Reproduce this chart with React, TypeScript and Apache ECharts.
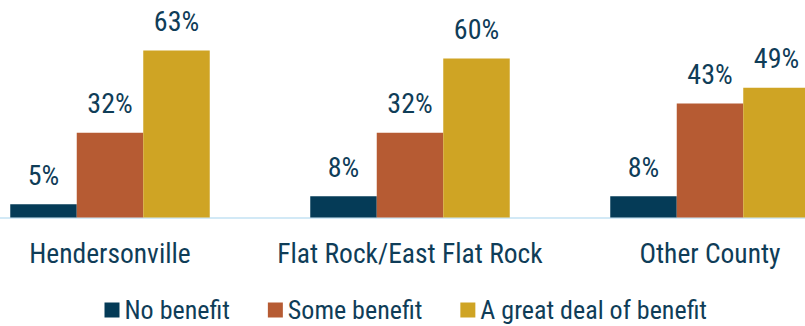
import React, { useEffect, useRef } from "react";
import * as echarts from "echarts";

const categories = ["Hendersonville", "Flat Rock/East Flat Rock", "Other County"];
const seriesNames = ["No benefit", "Some benefit", "A great deal of benefit"];
const noBenefit = [5, 8, 8];
const someBenefit = [32, 32, 43];
const greatDeal = [63, 60, 49];
const colors = ["#053b57", "#b65b33", "#cfa424"];

const FONT = "'Liberation Sans Narrow', 'Arial Narrow', 'Roboto Condensed', sans-serif";
const TEXT = "#0f3d58";
const SHIFT = 40.5;

export default function App() {
  const ref = useRef<HTMLDivElement>(null);
  useEffect(() => {
    if (!ref.current) return;
    const chart = echarts.init(ref.current, null, { renderer: "svg" });
    const data = [noBenefit, someBenefit, greatDeal];
    chart.setOption({
      animation: false,
      textStyle: { fontFamily: FONT },
      grid: { left: 0, right: 0, top: 5.5, bottom: 108.5, containLabel: false },
      legend: {
        top: 297,
        left: 104 + SHIFT,
        padding: 0,
        icon: "rect",
        itemWidth: 15,
        itemHeight: 15,
        itemGap: 38,
        textStyle: { fontFamily: FONT, fontSize: 26, lineHeight: 20, color: TEXT },
        data: seriesNames,
      },
      xAxis: {
        type: "category",
        data: categories,
        axisLine: { lineStyle: { color: "#c3e2f3", width: 1.5 } },
        axisTick: { show: false },
        axisLabel: { fontFamily: FONT, fontSize: 27.5, color: TEXT, margin: 22, interval: 0 },
      },
      yAxis: {
        type: "value",
        min: 0,
        max: 80,
        show: false,
        splitLine: { show: false },
      },
      series: seriesNames.map((name, i) => ({
        name,
        type: "bar",
        data: data[i],
        barWidth: 66.5,
        barGap: "0%",
        itemStyle: { color: colors[i] },
        label: {
          show: true,
          position: "top",
          distance: 15,
          formatter: "{c}%",
          fontFamily: FONT,
          fontSize: 28,
          color: TEXT,
        },
      })),
    });
    return () => chart.dispose();
  }, []);
  return (
    <div style={{ width: 805, height: 326, position: "absolute", left: 0, top: 0, overflow: "hidden" }}>
      <div ref={ref} style={{ width: 900, height: 326, position: "absolute", left: -SHIFT, top: 0 }} />
    </div>
  );
}
